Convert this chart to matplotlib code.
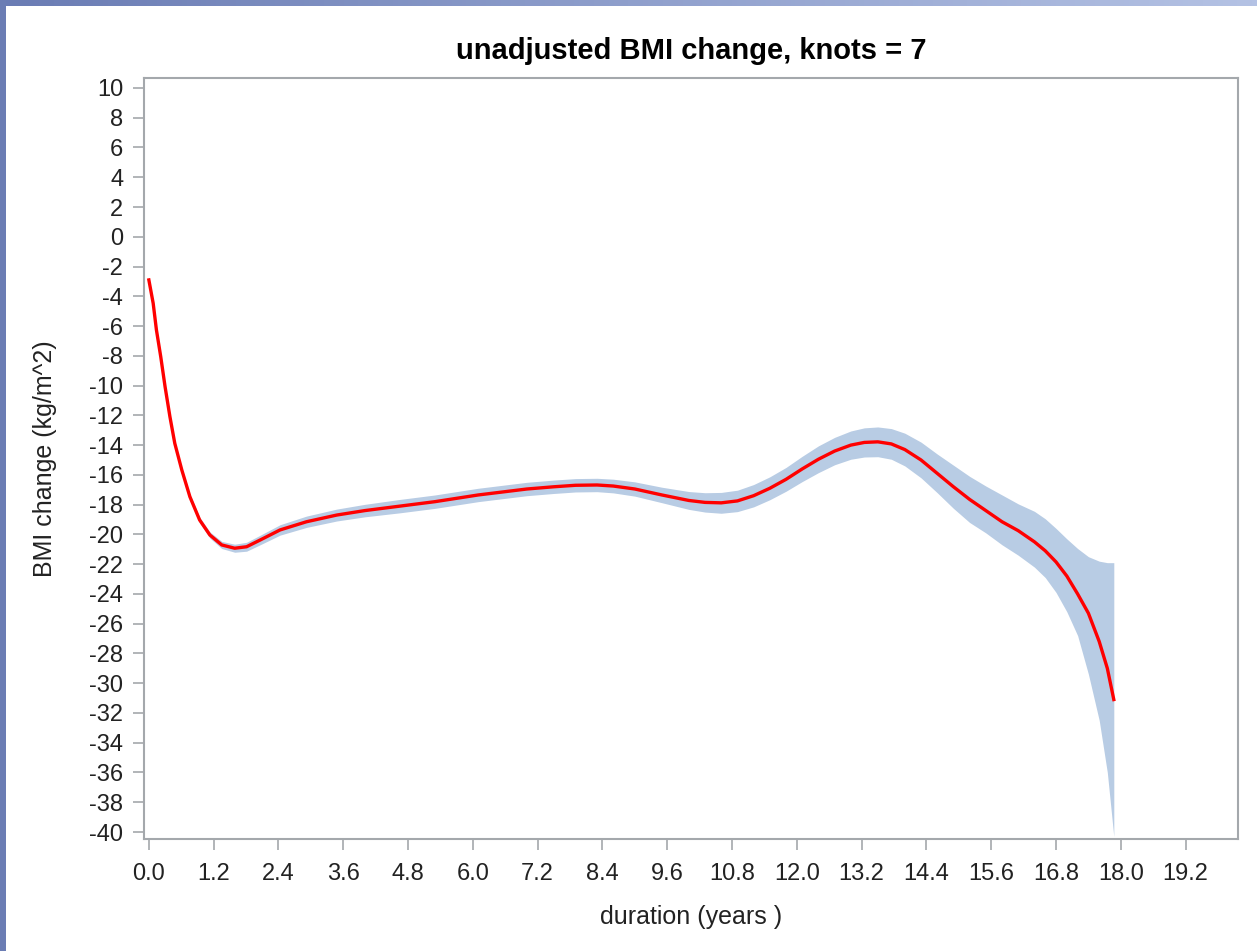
import numpy as np
import matplotlib
matplotlib.use('Agg')
import matplotlib.pyplot as plt
from matplotlib.patches import Rectangle

plt.rcParams['font.family'] = ['Liberation Sans', 'DejaVu Sans']
plt.rcParams['axes.unicode_minus'] = False

# spline fit: duration (years) vs BMI change, with 95% band
duration = [0.0, 0.08, 0.14, 0.22, 0.30, 0.39, 0.48, 0.61, 0.76, 0.94, 1.13, 1.35,
            1.59, 1.81, 2.06, 2.43, 2.92, 3.48, 4.0, 4.65, 5.3, 6.1, 7.0, 7.5, 7.9,
            8.3, 8.6, 9.0, 9.5, 10.0, 10.3, 10.6, 10.9, 11.2, 11.5, 11.8, 12.1, 12.4,
            12.7, 13.0, 13.25, 13.5, 13.75, 14.0, 14.3, 14.6, 14.9, 15.2, 15.5, 15.8,
            16.1, 16.4, 16.6, 16.8, 17.0, 17.2, 17.4, 17.6, 17.75, 17.87]
bmi_fit = [-2.9, -4.47, -6.26, -8.06, -10.07, -12.09, -13.88, -15.67, -17.47, -19.03,
           -20.04, -20.71, -20.93, -20.83, -20.38, -19.7, -19.15, -18.7, -18.4, -18.1,
           -17.8, -17.35, -16.95, -16.8, -16.7, -16.68, -16.75, -16.95, -17.35, -17.72,
           -17.85, -17.88, -17.75, -17.4, -16.9, -16.3, -15.6, -14.95, -14.4, -14.0,
           -13.82, -13.78, -13.92, -14.3, -15.0, -15.9, -16.8, -17.65, -18.4, -19.15,
           -19.75, -20.5, -21.1, -21.85, -22.8, -24.0, -25.3, -27.2, -29.0, -31.1]
bmi_upper = [-2.8, -4.37, -6.16, -7.94, -9.95, -11.96, -13.74, -15.52, -17.30, -18.84,
             -19.83, -20.47, -20.66, -20.53, -20.06, -19.35, -18.77, -18.3, -17.98,
             -17.65, -17.35, -16.9, -16.5, -16.35, -16.25, -16.23, -16.29, -16.47,
             -16.83, -17.12, -17.2, -17.18, -17.03, -16.65, -16.13, -15.5, -14.75,
             -14.05, -13.48, -13.05, -12.84, -12.78, -12.89, -13.2, -13.8, -14.6,
             -15.35, -16.1, -16.75, -17.35, -17.95, -18.45, -18.95, -19.6, -20.3,
             -20.95, -21.5, -21.8, -21.9, -21.9]
bmi_lower = [-3.0, -4.57, -6.36, -8.18, -10.19, -12.22, -14.02, -15.82, -17.64, -19.22,
             -20.25, -20.95, -21.20, -21.13, -20.70, -20.05, -19.53, -19.1, -18.82,
             -18.55, -18.25, -17.8, -17.4, -17.25, -17.15, -17.13, -17.21, -17.43,
             -17.87, -18.32, -18.5, -18.58, -18.47, -18.15, -17.67, -17.1, -16.45,
             -15.85, -15.32, -14.95, -14.8, -14.78, -14.95, -15.4, -16.2, -17.2,
             -18.25, -19.2, -19.9, -20.7, -21.4, -22.2, -22.9, -23.9, -25.2, -26.8,
             -29.4, -32.5, -36.0, -40.3]

x_ticks = [0.0, 1.2, 2.4, 3.6, 4.8, 6.0, 7.2, 8.4, 9.6, 10.8, 12.0, 13.2, 14.4,
           15.6, 16.8, 18.0, 19.2]
y_ticks = list(range(-40, 11, 2))

grey = '#a4a8ac'

fig = plt.figure(figsize=(12.57, 9.51), dpi=100)
fig.patch.set_facecolor('white')

# window frame of the screenshot (top and left blue strips)
top = fig.add_axes([0, 1 - 6 / 951, 1, 6 / 951])
top.imshow(np.linspace(0, 1, 256)[None, :], aspect='auto',
           cmap=matplotlib.colors.LinearSegmentedColormap.from_list('f', ['#6a7cb4', '#b4c2e4']),
           extent=[0, 1, 0, 1])
top.axis('off')
fig.patches.append(Rectangle((0, 0), 6 / 1257, 1, transform=fig.transFigure,
                             facecolor='#6b7db4', edgecolor='none', zorder=5))

ax = fig.add_axes([144 / 1257, 1 - 839 / 951, (1238 - 144) / 1257, (839 - 78) / 951])
ax.fill_between(duration, bmi_lower, bmi_upper, color='#b8cce4', linewidth=0)
ax.plot(duration, bmi_fit, color='#ff0000', linewidth=2.4, solid_joinstyle='round')

ax.set_xlim(-0.09, 20.17)
ax.set_ylim(-40.47, 10.67)
ax.set_xticks(x_ticks)
ax.set_xticklabels([f'{t:.1f}' for t in x_ticks])
ax.set_yticks(y_ticks)
ax.tick_params(direction='out', length=8, width=1.2, color=grey,
               labelsize=17, labelcolor='#222222', pad=7)
ax.tick_params(axis='x', pad=9)
for s in ax.spines.values():
    s.set_color(grey)
    s.set_linewidth(1.5)

ax.set_title('unadjusted BMI change, knots = 7', fontsize=21, fontweight='bold', pad=14)
ax.set_xlabel('duration (years )', fontsize=18, color='#222222', labelpad=15)
ax.set_ylabel('BMI change (kg/m^2)', fontsize=18, color='#222222', labelpad=23)

fig.savefig('out.png', dpi=100)
